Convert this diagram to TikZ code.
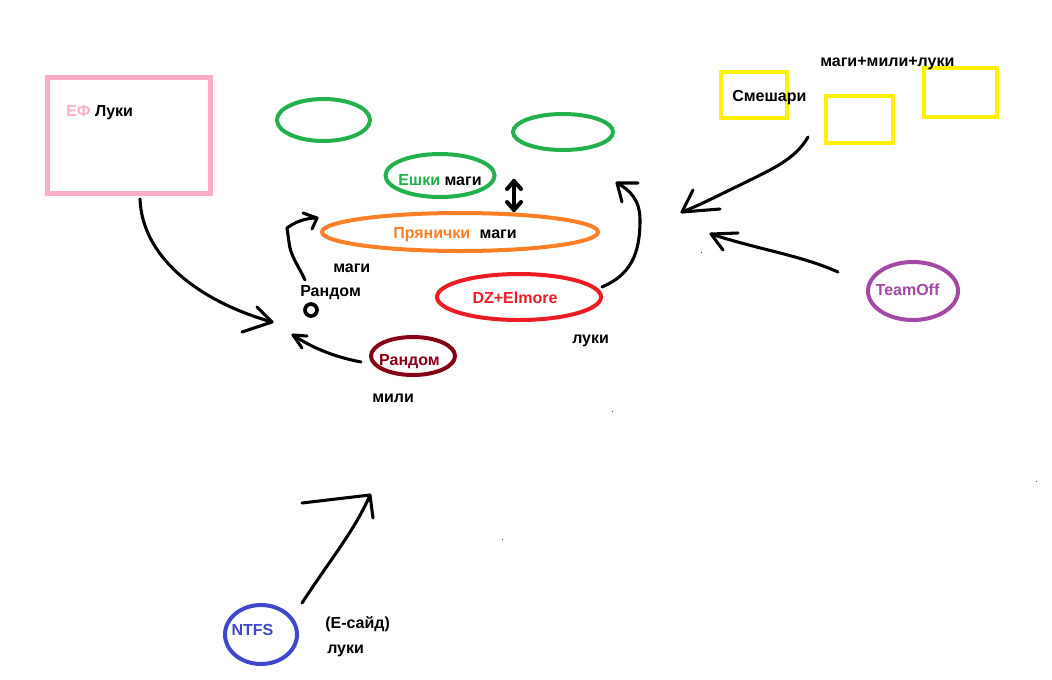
\documentclass[tikz,border=0pt]{standalone}
\usepackage{fontspec}
\setmainfont{Liberation Sans}
\definecolor{efpink}{HTML}{FFAEC9}
\definecolor{pgreen}{HTML}{22B14C}
\definecolor{porange}{HTML}{FF7F27}
\definecolor{pred}{HTML}{ED1C24}
\definecolor{pmaroon}{HTML}{880015}
\definecolor{pblue}{HTML}{3F48CC}
\definecolor{ppurple}{HTML}{A349A4}
\definecolor{pyellow}{HTML}{FFF200}
\tikzset{
  ov/.style={draw, line width=3pt},
  lbl/.style={inner sep=0pt, anchor=mid west, yshift=-2pt, font=\fontsize{12}{14}\selectfont\bfseries},
  clbl/.style={inner sep=0pt, anchor=mid, yshift=-2pt, font=\fontsize{12}{14}\selectfont\bfseries},
  stroke/.style={draw=black, line width=2.3pt, line cap=round, line join=round},
  ybox/.style={draw=pyellow, line width=3pt},
}
\begin{document}
\begin{tikzpicture}[x=0.75pt, y=-0.75pt]
\useasboundingbox[fill=white] (0,0) rectangle (1052,679);

% boxes
\draw[draw=efpink, line width=3.8pt] (47.5,77.5) rectangle (210.5,193.5);
\node[lbl] (ef) at (66,110) {\textcolor{efpink}{ЕФ} Луки};

\draw[ybox] (721,72) rectangle (787,118);
\draw[ybox] (826,96) rectangle (893,143);
\draw[ybox] (924,68) rectangle (997,117);
\node[lbl] (smesh) at (732,95) {Смешари};
\node[lbl] (mml) at (820,60) {маги+мили+луки};

% ellipses
\draw[ov, pgreen] (323.5,120) ellipse [x radius=46.5, y radius=21];
\draw[ov, pgreen] (563,132) ellipse [x radius=50, y radius=18];
\draw[ov, pgreen] (440,175.5) ellipse [x radius=54.5, y radius=21.5];
\node[lbl] (eshki) at (398,179) {\textcolor{pgreen}{Ешки} маги};

\draw[ov, porange] (460,232) ellipse [x radius=138, y radius=19];
\node[lbl] (pryan) at (393,232) {\textcolor{porange}{Прянички}\hspace{7pt}маги};

\draw[ov, pred] (519,297) ellipse [x radius=82, y radius=23];
\node[clbl, text=pred] (dz) at (515,297) {DZ+Elmore};
\node[lbl] (luki1) at (572,337) {луки};

\draw[ov, pmaroon] (413,356) ellipse [x radius=42, y radius=19];
\node[clbl, text=pmaroon] (rand2) at (409.5,359) {Рандом};
\node[lbl] (mili) at (372,396) {мили};

\node[lbl] (magi2) at (333,266) {маги};
\node[lbl] (rand1) at (300,290) {Рандом};
\draw[line width=2.8pt] (311,310) circle [radius=6];

\draw[ov, pblue] (261,634.5) ellipse [x radius=36, y radius=29.5];
\node[clbl, text=pblue] (ntfs) at (252.5,629) {NTFS};
\node[lbl] (eside) at (325,622) {(Е-сайд)};
\node[lbl] (luki2) at (327,647) {луки};

\draw[ov, ppurple] (913,291) ellipse [x radius=45, y radius=29];
\node[clbl, text=ppurple] (team) at (907.5,289) {TeamOff};

% double arrow
\coordinate (da1) at (514,181);
\coordinate (da2) at (514,210);
\draw[stroke, line width=3pt] (da1) -- (da2);
\draw[stroke, line width=3pt] (507,189) -- (da1) -- (521,189);
\draw[stroke, line width=3pt] (507,202) -- (da2) -- (521,202);

% EF arrow
\coordinate (efs) at (140,199);
\coordinate (eft) at (272,322);
\draw[stroke] (efs) .. controls (142,255) and (195,300) .. (eft);
\draw[stroke] (257,307) -- (eft) -- (242,332);

% Random(black) up to Pryanichki
\coordinate (r1s) at (305,280);
\coordinate (r1t) at (317,218);
\draw[stroke] (r1s) .. controls (298,265) and (290,255) .. (289,242) -- (287,228) .. controls (295,222) and (305,218) .. (r1t);
\draw[stroke] (303,213) -- (r1t) -- (312,229);

% Random(maroon) arrow
\coordinate (r2s) at (361,362);
\coordinate (r2t) at (293,335);
\draw[stroke] (r2s) .. controls (340,358) and (315,350) .. (r2t);
\draw[stroke] (302,348) -- (r2t) -- (307,336);

% DZ arrow
\coordinate (dzs) at (602,287);
\coordinate (dzt) at (617,183);
\draw[stroke] (dzs) .. controls (630,275) and (640,255) .. (640,220) .. controls (640,200) and (630,190) .. (dzt);
\draw[stroke] (638,183) -- (dzt) -- (622,202);

% Smeshari arrow
\coordinate (sms) at (808,137);
\coordinate (smt) at (682,212);
\draw[stroke] (sms) .. controls (795,160) and (770,170) .. (740,185) .. controls (715,197) and (700,205) .. (smt);
\draw[stroke] (693,190) -- (smt) -- (720,209);

% TeamOff arrow
\coordinate (tos) at (838,272);
\coordinate (tot) at (711,234);
\draw[stroke] (tos) .. controls (800,255) and (760,250) .. (tot);
\draw[stroke] (738,233) -- (tot) -- (723,250);

% NTFS arrow
\coordinate (nts) at (302,603);
\coordinate (ntt) at (370,495);
\draw[stroke] (nts) .. controls (330,560) and (355,530) .. (ntt);
\draw[stroke] (302,503) -- (ntt) -- (373,518);

% specks
\fill[black!70] (700.5,251.5) rectangle ++(1.3,1.3);
\fill[black!70] (612,411) rectangle ++(1.3,1.3);
\fill[black!70] (1036,481) rectangle ++(1.3,1.3);
\fill[black!70] (502,539) rectangle ++(1.3,1.3);
\end{tikzpicture}
\end{document}
